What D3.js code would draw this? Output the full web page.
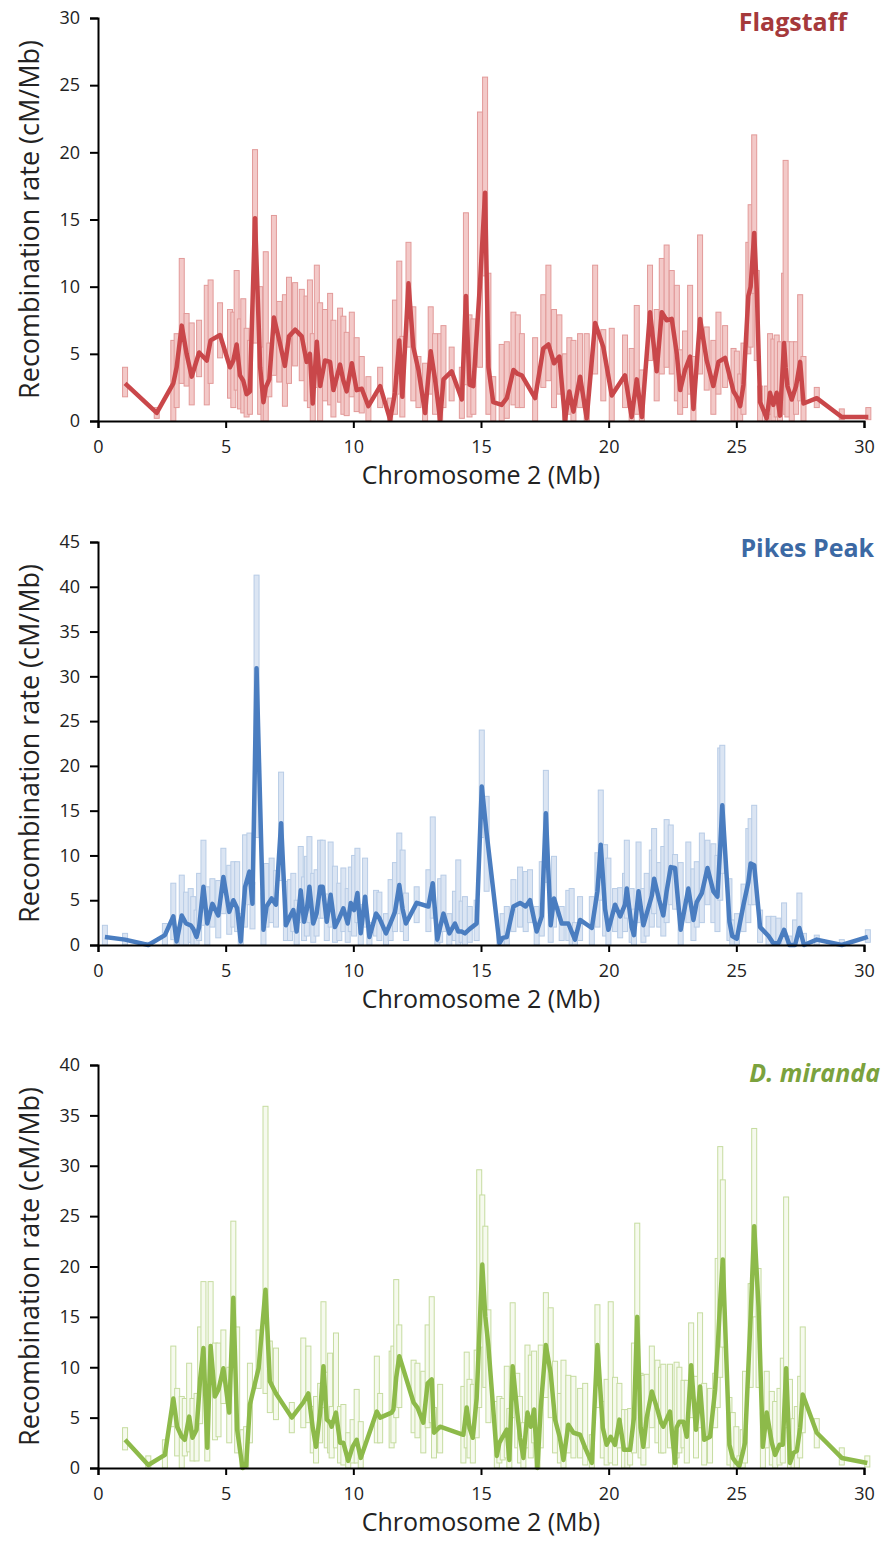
<!DOCTYPE html>
<html lang="en">
<head>
<meta charset="UTF-8">
<title>Recombination rate - Chromosome 2</title>
<script src="https://d3js.org/d3.v7.min.js"></script>
<style>
  body { margin: 0; background: #fff; }
  svg text { font-family: "Open Sans", "Noto Sans", sans-serif; }
</style>
</head>
<body>
<div id="chart"></div>
<script>
// x positions (Mb), point estimate, lower and upper bounds for each panel

// Flagstaff
var flagPos  = [1.06,2.30,2.95,3.08,3.28,3.47,3.67,3.96,4.26,4.41,4.78,5.17,5.30,5.43,5.56,5.69,5.82,5.95,6.15,6.35,6.48,6.57,6.71,6.89,7.10,7.32,7.48,7.72,7.98,8.17,8.30,8.41,8.57,8.70,8.89,9.09,9.22,9.48,9.61,9.74,9.94,10.13,10.33,10.59,11.05,11.44,11.63,11.80,11.92,12.16,12.35,12.55,12.81,13.03,13.20,13.40,13.53,13.85,14.25,14.41,14.55,14.70,14.96,15.16,15.29,15.48,15.81,16.01,16.27,16.44,16.60,17.12,17.44,17.64,17.86,18.07,18.29,18.46,18.62,18.88,19.14,19.47,19.79,20.12,20.64,20.90,21.10,21.30,21.62,21.88,22.08,22.27,22.47,22.67,22.80,22.99,23.19,23.32,23.58,23.84,24.10,24.30,24.56,24.89,25.02,25.15,25.28,25.47,25.56,25.70,25.80,25.93,26.19,26.32,26.45,26.58,26.71,26.87,26.93,27.00,27.17,27.34,27.50,27.63,28.15,29.13,30.17];
var flagRate = [2.8,0.6,2.8,4.0,7.1,5.0,3.3,5.1,4.5,6.0,6.4,4.0,4.5,5.7,3.4,3.0,2.0,2.2,15.1,4.0,1.4,2.5,3.1,7.7,6.0,4.1,6.3,6.8,6.3,4.4,5.0,1.3,5.9,2.6,4.5,4.4,2.3,4.2,3.0,2.2,4.3,2.3,2.4,1.1,2.6,0.1,2.1,6.0,1.8,10.25,5.5,3.8,0.6,5.2,3.1,0.1,3.1,3.7,1.6,9.3,2.7,2.6,10.2,17.0,4.0,1.4,1.2,1.7,3.8,3.5,3.4,1.7,5.4,5.7,4.3,4.8,0.1,2.2,0.7,3.3,0.2,7.3,5.5,1.9,3.4,0.3,3.1,0.3,8.1,3.7,8.1,7.5,7.6,5.0,2.3,3.8,4.8,0.9,7.6,4.5,2.6,4.4,4.7,2.2,1.8,1.1,2.7,9.3,10.0,14.0,9.8,1.4,0.2,2.1,1.2,2.1,0.4,5.8,4.0,2.6,1.6,2.6,4.4,1.3,1.7,0.3,0.3];
var flagLow  = [1.8,0.2,0.0,1.0,2.8,2.6,1.2,3.3,1.2,2.8,4.7,1.7,1.0,2.3,0.9,0.6,0.3,0.5,5.8,0.5,0.0,0.0,1.8,3.4,2.9,1.1,2.8,4.1,3.0,1.5,1.0,0.0,2.5,0.0,1.5,1.2,0.3,1.4,0.5,0.4,1.8,0.7,0.6,0.0,1.0,0.0,0.5,2.0,0.3,5.5,1.5,1.0,0.0,2.0,0.5,0.0,1.0,1.5,0.2,2.7,0.3,0.5,4.0,10.8,0.5,0.0,0.0,0.2,1.2,1.0,1.0,0.0,2.5,3.0,1.0,2.0,0.0,0.5,0.0,1.0,0.0,3.5,1.5,0.0,1.0,0.0,0.5,0.0,4.5,1.5,3.5,4.0,3.5,1.5,0.5,1.0,2.0,0.0,3.5,2.3,0.5,2.0,2.5,0.0,0.0,0.0,0.5,5.0,5.5,9.5,4.5,0.0,0.0,0.5,0.0,0.3,0.0,1.5,0.5,0.3,0.0,0.5,1.5,0.0,1.0,0.1,0.1];
var flagHigh = [4.0,1.0,6.0,6.5,12.1,8.0,7.3,7.5,10.1,10.5,8.8,8.3,8.1,11.2,7.6,9.1,6.9,6.0,20.2,10.0,5.5,12.6,5.8,15.3,8.9,9.4,10.7,10.3,9.8,9.3,10.5,6.5,11.6,8.8,8.3,9.5,7.5,8.4,7.8,6.6,8.1,6.2,4.8,3.3,4.0,1.7,9.0,11.9,6.3,13.3,8.5,4.8,4.3,8.5,6.5,6.5,7.1,5.5,4.0,15.5,7.9,7.6,23.0,25.6,11.0,3.3,5.7,5.9,8.1,7.9,6.5,6.2,9.4,11.6,8.3,7.9,5.0,6.2,6.0,6.5,6.5,11.6,6.8,6.9,6.4,5.4,8.6,3.8,11.6,8.3,12.1,13.1,11.2,10.1,5.3,6.7,10.1,4.8,13.85,7.0,6.0,8.1,7.1,5.4,5.2,3.5,5.8,13.3,16.1,21.3,11.2,2.6,2.6,6.5,6.1,6.4,5.9,11.0,19.4,5.9,5.9,5.9,9.4,4.8,2.5,0.9,1.0];

// Pikes Peak
var pikesPos  = [0.27,1.06,1.97,2.62,2.95,3.08,3.28,3.45,3.63,3.73,3.86,3.96,4.13,4.28,4.48,4.71,4.91,5.14,5.30,5.45,5.59,5.76,5.93,6.05,6.21,6.48,6.60,6.80,6.97,7.17,7.36,7.52,7.65,7.78,7.94,8.07,8.18,8.28,8.43,8.56,8.70,8.80,8.96,9.11,9.28,9.45,9.61,9.78,9.90,10.03,10.16,10.29,10.46,10.63,10.89,11.02,11.28,11.46,11.63,11.80,11.93,12.06,12.48,12.94,13.11,13.29,13.40,13.53,13.76,13.98,14.11,14.24,14.37,14.56,14.83,15.03,15.22,15.72,15.85,16.01,16.27,16.53,16.75,16.92,17.18,17.38,17.54,17.73,17.86,18.16,18.42,18.55,18.68,18.88,19.34,19.56,19.69,19.86,19.99,20.25,20.45,20.64,20.71,20.90,20.99,21.17,21.36,21.49,21.69,21.78,21.98,22.14,22.27,22.43,22.60,22.82,23.12,23.32,23.45,23.65,23.87,24.10,24.26,24.37,24.45,24.73,24.84,25.02,25.28,25.47,25.56,25.70,25.93,26.26,26.45,26.65,26.87,27.08,27.30,27.47,27.65,28.15,29.13,30.15];
var pikesRate = [0.9,0.6,0.0,1.1,3.2,0.4,3.3,2.4,2.2,1.8,0.9,2.0,6.5,2.4,4.6,3.3,7.6,3.7,5.0,4.1,0.4,6.5,8.2,4.6,30.9,1.7,4.3,5.2,4.5,13.6,2.2,3.2,3.9,1.5,6.1,2.6,4.0,6.5,2.4,3.5,6.5,6.5,2.6,5.6,2.0,3.0,4.1,2.4,4.7,3.9,5.8,1.3,5.4,0.9,3.5,3.0,1.3,2.5,3.7,6.7,4.0,2.4,4.7,4.3,6.9,0.6,2.0,3.5,1.3,2.4,1.5,1.5,1.3,1.8,2.4,17.7,12.5,0.2,0.8,0.9,4.3,4.7,4.3,5.0,1.5,3.2,14.7,2.2,5.2,2.4,2.4,1.5,0.6,2.8,1.9,6.0,11.2,4.0,1.7,4.5,3.2,4.5,6.3,2.0,1.1,6.0,2.2,3.5,5.5,7.4,5.0,3.3,6.0,8.7,8.6,1.7,6.3,2.8,4.8,5.8,8.6,6.0,5.4,11.0,15.6,2.6,1.0,0.7,4.5,7.0,9.1,8.9,2.0,1.0,0.2,0.2,1.7,0.0,0.0,1.9,0.0,0.6,0.0,0.9];
var pikesLow  = [0.0,0.0,0.0,0.0,0.6,0.0,0.0,0.0,0.3,0.0,0.0,0.5,2.2,0.0,2.0,0.8,3.5,1.2,2.0,1.5,0.0,2.0,4.5,1.8,12.0,0.0,2.0,2.5,2.0,7.2,0.5,0.5,1.5,0.0,2.5,0.5,1.0,2.5,0.3,1.0,3.0,3.0,0.5,2.0,0.3,0.5,1.5,0.3,1.5,1.0,2.5,0.0,2.0,0.0,1.0,0.5,0.0,0.5,1.5,3.5,1.5,0.5,2.5,1.5,3.0,0.0,0.3,1.5,0.0,0.5,0.0,0.3,0.0,0.3,0.5,12.0,6.0,0.0,0.0,0.0,1.5,2.0,1.5,2.5,0.0,1.0,7.0,0.3,2.0,0.5,0.5,0.0,0.0,0.5,0.0,2.0,5.0,1.0,0.0,1.5,0.8,1.5,3.0,0.3,0.0,2.5,0.3,1.0,2.0,3.5,2.0,1.0,2.5,4.5,4.0,0.0,2.5,0.5,2.0,2.5,4.5,2.5,1.5,5.0,8.0,0.5,0.0,0.0,1.5,2.5,4.5,4.5,0.3,0.0,0.0,0.0,0.0,0.0,0.0,0.0,0.0,0.0,0.0,0.3];
var pikesHigh = [2.2,1.3,0.3,2.4,6.9,2.0,7.8,5.9,6.3,5.4,3.9,8.0,11.7,6.5,7.4,7.2,10.8,8.9,9.3,9.3,3.5,12.3,12.5,7.0,41.3,5.8,9.1,9.7,8.3,19.3,7.1,7.3,8.0,5.0,11.0,7.6,9.9,12.1,8.0,8.4,11.7,11.7,5.7,11.5,8.8,6.9,8.6,6.3,8.7,10.0,10.8,4.5,9.7,2.5,6.1,5.9,3.5,7.3,9.2,12.5,10.6,5.8,6.5,8.4,14.3,3.0,7.4,7.8,3.5,6.0,9.5,4.9,5.4,4.3,5.0,24.0,16.6,1.7,3.5,4.3,7.3,8.7,8.2,8.4,4.3,9.3,19.5,5.7,9.9,4.3,6.1,6.3,2.5,5.4,5.4,10.3,17.3,11.2,9.7,6.3,6.4,8.0,11.7,6.3,4.0,11.5,6.3,8.0,10.6,13.0,9.2,11.0,14.0,13.4,10.1,9.2,11.5,8.5,9.3,12.5,11.7,11.3,10.0,22.0,22.3,7.4,2.8,3.5,6.8,13.0,14.1,15.6,3.9,3.2,3.2,3.0,4.7,1.0,2.8,5.8,1.3,1.1,0.6,1.7];

// D. miranda
var miraPos  = [1.06,1.97,2.62,2.95,3.10,3.28,3.40,3.57,3.70,3.86,4.00,4.13,4.28,4.41,4.58,4.72,4.91,5.14,5.30,5.45,5.66,5.80,5.95,6.29,6.56,6.73,6.97,7.59,8.04,8.24,8.41,8.54,8.70,8.83,8.96,9.09,9.15,9.32,9.48,9.61,9.80,9.97,10.13,10.29,10.92,11.05,11.50,11.57,11.68,11.80,12.36,12.51,12.74,12.91,13.07,13.16,13.40,14.31,14.44,14.55,14.68,14.83,14.93,15.05,15.17,15.29,15.62,15.72,15.85,16.01,16.11,16.24,16.42,16.53,16.66,16.82,16.95,17.08,17.21,17.34,17.54,17.73,17.90,18.09,18.23,18.42,18.62,18.88,19.08,19.34,19.56,19.77,19.92,20.08,20.25,20.42,20.60,20.73,20.84,20.99,21.12,21.25,21.36,21.49,21.69,21.91,22.05,22.14,22.40,22.60,22.66,22.77,22.93,23.06,23.23,23.42,23.58,23.74,23.97,24.17,24.27,24.37,24.47,24.73,24.86,25.00,25.12,25.25,25.34,25.56,25.70,25.87,26.04,26.19,26.39,26.52,26.69,26.82,26.95,27.10,27.24,27.37,27.50,27.60,28.15,29.13,30.13];
var miraRate = [2.8,0.3,1.3,6.9,4.1,3.1,2.8,5.1,3.0,3.8,8.8,11.9,2.0,12.1,7.1,7.8,9.9,5.5,16.9,3.8,0.0,0.2,6.3,9.9,17.7,8.6,7.4,5.0,6.5,7.4,4.0,2.1,5.5,10.1,4.8,4.5,4.1,5.5,2.5,2.5,0.7,2.1,2.8,1.0,5.6,5.0,5.5,5.8,9.0,11.1,6.5,6.0,4.5,8.4,8.8,3.5,4.1,3.3,6.0,4.0,3.0,6.9,13.0,20.2,15.0,12.1,1.2,2.5,3.1,3.8,0.8,10.1,5.5,3.0,1.0,5.5,4.1,5.8,0.0,6.0,12.2,9.4,4.8,3.0,0.8,4.3,3.5,3.3,2.0,0.5,12.2,4.0,2.3,3.1,2.3,4.8,1.8,1.8,1.8,5.0,15.0,4.0,2.1,5.0,7.6,5.8,4.5,4.1,5.6,0.5,4.0,4.6,4.6,3.1,10.2,3.8,8.1,2.8,3.1,7.8,12.0,16.7,20.7,2.3,1.0,0.5,0.2,1.5,2.5,15.0,24.0,16.0,2.1,5.5,2.5,1.3,2.3,2.3,9.9,0.5,1.5,1.7,4.0,7.3,3.5,1.0,0.5];
var miraLow  = [1.8,0.0,0.0,4.1,1.2,0.0,1.2,1.6,0.7,0.7,4.4,8.8,0.7,8.4,2.8,3.1,6.4,2.5,10.4,1.5,0.0,0.0,2.5,7.9,7.4,5.5,4.8,3.5,4.0,4.5,1.5,0.5,2.5,6.0,2.0,1.5,1.0,2.0,0.5,0.3,0.0,0.5,0.5,0.0,2.5,2.5,2.0,2.5,5.0,6.0,3.5,3.0,1.5,4.0,4.5,1.0,1.5,0.5,2.0,1.0,0.5,3.0,6.0,12.0,8.0,4.5,0.0,0.5,0.8,1.0,0.0,5.0,2.0,0.5,0.0,2.0,1.0,2.5,0.0,2.0,7.0,5.0,1.5,0.5,0.0,1.5,1.0,1.0,0.3,0.0,6.0,1.0,0.3,0.5,0.3,2.0,0.0,0.0,0.3,1.5,8.0,1.0,0.3,2.0,4.0,2.5,1.5,1.5,2.0,0.0,1.0,1.5,2.0,0.5,5.0,1.0,4.0,0.3,0.5,4.0,6.0,9.0,12.0,0.3,0.0,0.0,0.0,0.0,0.5,8.0,15.0,8.0,0.0,2.0,0.3,0.0,0.3,0.5,4.0,0.0,0.0,0.0,1.0,3.5,2.0,0.3,0.1];
var miraHigh = [4.0,1.2,2.8,12.1,7.9,7.1,6.9,10.4,6.9,7.4,14.0,18.5,7.9,18.5,12.4,12.4,13.7,10.0,24.5,14.0,3.8,4.1,10.4,13.7,35.9,12.6,11.9,6.5,12.9,12.1,6.1,7.1,8.4,16.5,9.5,11.4,6.1,13.4,6.1,6.3,3.5,4.8,7.8,4.6,11.1,7.4,11.6,12.1,18.7,14.2,10.7,10.4,9.6,14.2,17.0,6.0,8.3,8.1,11.5,8.8,8.3,11.7,29.6,27.1,24.0,15.7,6.6,7.1,6.9,10.1,5.9,16.4,9.4,7.1,4.5,12.2,11.2,11.6,3.0,12.2,17.4,15.9,10.6,7.4,10.7,9.2,9.1,7.9,8.4,3.3,16.2,6.6,8.8,16.5,9.0,8.4,5.8,5.8,5.9,12.4,24.3,9.4,9.2,9.3,12.1,10.7,10.0,10.3,10.3,3.0,10.5,10.0,8.7,8.7,14.4,9.1,15.4,8.4,7.9,9.4,20.8,31.9,28.6,7.0,5.5,4.1,1.2,3.8,9.6,18.3,33.7,19.8,5.5,9.6,7.6,6.6,7.9,10.9,26.9,8.8,4.9,6.1,9.1,14.0,4.9,2.0,1.2];

var xTicks = [0, 5, 10, 15, 20, 25, 30];
var xTitle = "Chromosome 2 (Mb)";
var yTitle = "Recombination rate (cM/Mb)";

var panels = [
    {title: "Flagstaff", italic: false, pos: flagPos, rate: flagRate, low: flagLow, high: flagHigh,
     yMax: 30, top: 18, bottom: 421, titleX: 847, titleY: 31,
     line: "#c9474a", barFill: "#f3c9c8", barStroke: "#e29a99", titleColor: "#a5393b"},
    {title: "Pikes Peak", italic: false, pos: pikesPos, rate: pikesRate, low: pikesLow, high: pikesHigh,
     yMax: 45, top: 542, bottom: 945, titleX: 874, titleY: 557,
     line: "#4a7dc0", barFill: "#dbe5f3", barStroke: "#b8cce6", titleColor: "#3c69a4"},
    {title: "D. miranda", italic: true, pos: miraPos, rate: miraRate, low: miraLow, high: miraHigh,
     yMax: 40, top: 1065, bottom: 1468, titleX: 880, titleY: 1082,
     line: "#8dba4a", barFill: "#f6faee", barStroke: "#c6dca0", titleColor: "#7ba23d"}
];

var W = 883, H = 1552;
var svg = d3.select("#chart").append("svg")
    .attr("width", W)
    .attr("height", H);

var x = d3.scaleLinear().domain([0, 30]).range([98, 864]);

panels.forEach(function(p) {
    var y = d3.scaleLinear().domain([0, p.yMax]).range([p.bottom, p.top]);
    var g = svg.append("g");

    // confidence bars
    var barW = 5;
    g.append("g").selectAll("rect")
        .data(p.pos)
        .enter()
        .append("rect")
            .attr("x", function(d) { return x(d) - barW / 2; })
            .attr("y", function(d, i) { return y(p.high[i]); })
            .attr("width", barW)
            .attr("height", function(d, i) { return Math.max(1, y(p.low[i]) - y(p.high[i])); })
            .style("fill", p.barFill)
            .style("stroke", p.barStroke)
            .style("stroke-width", "1px");

    // estimate line
    var line = d3.line()
        .x(function(d) { return x(d); })
        .y(function(d, i) { return y(p.rate[i]); });

    g.append("path")
        .datum(p.pos)
        .attr("d", line)
        .style("fill", "none")
        .style("stroke", p.line)
        .style("stroke-width", "4.5px")
        .style("stroke-linejoin", "round");

    // y axis
    var yAxis = g.append("g")
        .attr("transform", "translate(" + x(0) + ",0)")
        .call(d3.axisLeft(y).tickValues(d3.range(0, p.yMax + 1, 5)).tickSize(8).tickPadding(10));

    // x axis
    var xAxis = g.append("g")
        .attr("transform", "translate(0," + p.bottom + ")")
        .call(d3.axisBottom(x).tickValues(xTicks).tickSize(7).tickPadding(12));

    [xAxis, yAxis].forEach(function(a) {
        a.select(".domain").style("stroke", "#000").style("stroke-width", "2px");
        a.selectAll(".tick line").style("stroke", "#000").style("stroke-width", "2px");
        a.selectAll(".tick text").style("font-size", "18px").style("fill", "#222");
    });

    // axis titles
    g.append("text")
        .attr("x", (x(0) + x(30)) / 2)
        .attr("y", p.bottom + 63)
        .style("text-anchor", "middle")
        .style("font-size", "25px")
        .style("fill", "#222")
        .text(xTitle);

    g.append("text")
        .attr("transform", "translate(39," + (p.top + p.bottom) / 2 + ") rotate(-90)")
        .style("text-anchor", "middle")
        .style("font-size", "27px")
        .style("fill", "#222")
        .text(yTitle);

    // panel title
    g.append("text")
        .attr("x", p.titleX)
        .attr("y", p.titleY)
        .style("text-anchor", "end")
        .style("font-size", "25px")
        .style("font-weight", "bold")
        .style("font-style", p.italic ? "italic" : "normal")
        .style("fill", p.titleColor)
        .text(p.title);
});
</script>
</body>
</html>
